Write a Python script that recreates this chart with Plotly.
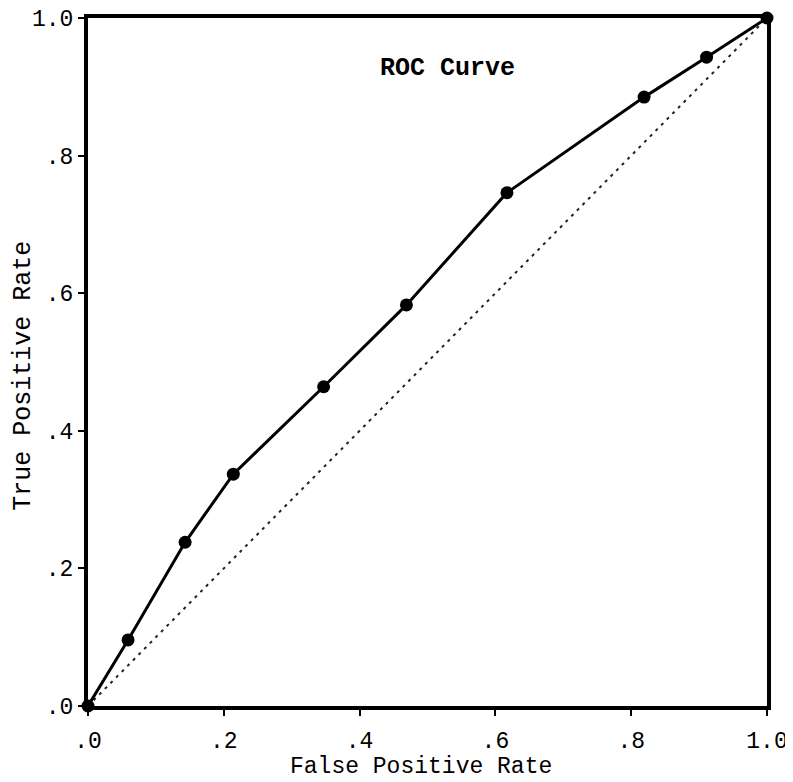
import plotly.graph_objects as go

fpr = [0.0, 0.059, 0.143, 0.214, 0.347, 0.469, 0.617, 0.819, 0.911, 1.0]
tpr = [0.0, 0.096, 0.238, 0.337, 0.464, 0.583, 0.746, 0.885, 0.943, 1.0]
ref_x = [0.0, 1.0]
ref_y = [0.0, 1.0]
tick_vals = [0.0, 0.2, 0.4, 0.6, 0.8, 1.0]
tick_text = [".0", ".2", ".4", ".6", ".8", "1.0"]

FONT = "Liberation Mono, Courier New, monospace"

fig = go.Figure()
fig.add_trace(go.Scatter(x=ref_x, y=ref_y, mode="lines",
                         line=dict(color="#222222", width=2, dash="3px,5px"),
                         hoverinfo="skip", cliponaxis=False))
fig.add_trace(go.Scatter(x=fpr, y=tpr, mode="lines+markers",
                         line=dict(color="black", width=3),
                         marker=dict(color="black", size=13),
                         cliponaxis=False))

axis_common = dict(range=[0, 1], tickvals=tick_vals, ticktext=tick_text,
                   showgrid=False, zeroline=False, showline=True, linewidth=4,
                   linecolor="black", mirror=True, ticks="outside", ticklen=6,
                   tickwidth=2, tickcolor="black", automargin=False,
                   ticklabeloverflow="allow",
                   tickfont=dict(family=FONT, size=23, color="black"))

# the page body has an 8px default margin, so the figure is offset by 8px
fig.update_layout(
    width=785, height=774,
    margin=dict(l=80, r=26, t=10, b=76),
    paper_bgcolor="white", plot_bgcolor="white",
    showlegend=False,
    xaxis=dict(**axis_common, ticklabelstandoff=4),
    yaxis=dict(**axis_common),
    annotations=[
        dict(text="<b>ROC Curve</b>", x=0.53, y=0.927, xref="x", yref="y",
             showarrow=False, xanchor="center", yanchor="middle",
             font=dict(family=FONT, size=25, color="black")),
        dict(text="False Positive Rate", x=0.49, y=0, xref="x", yref="paper",
             yshift=-61, showarrow=False, xanchor="center", yanchor="middle",
             font=dict(family=FONT, size=23, color="black")),
        dict(text="True Positive Rate", x=0, y=0.48, xref="paper", yref="y",
             xshift=-64, textangle=-90, showarrow=False,
             xanchor="center", yanchor="middle",
             font=dict(family=FONT, size=25, color="black")),
    ],
)

fig.write_html("out.html")
